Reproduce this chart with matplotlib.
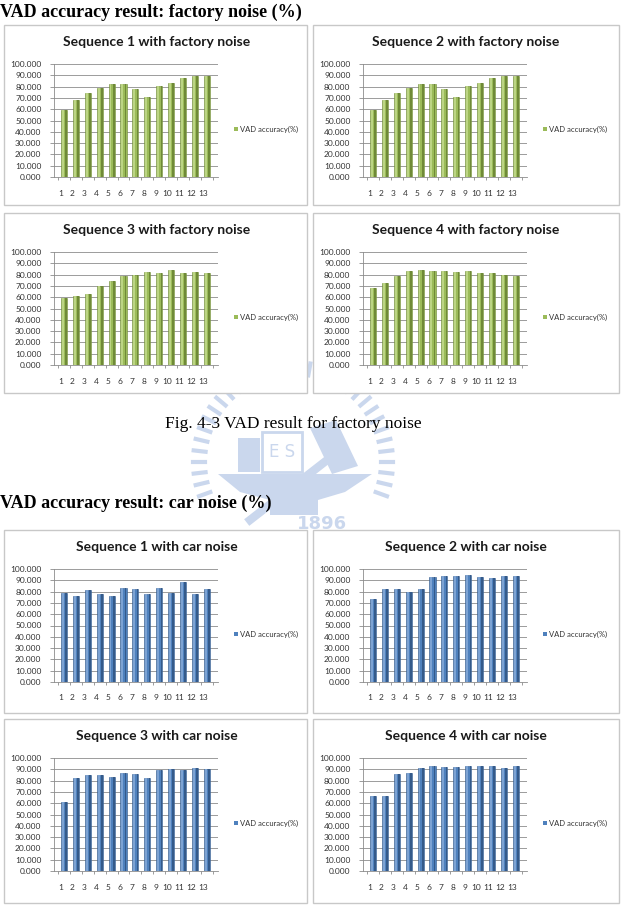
import numpy as np
import matplotlib.pyplot as plt
from matplotlib.patches import Rectangle, Polygon

W, H = 621, 911

# x categories (13 test settings)
categories = [str(i) for i in range(1, 14)]
y_ticks = list(range(0, 101, 10))
legend_label = "VAD accuracy(%)"

# factory noise, VAD accuracy (%)
factory_seq1 = [59.0, 68.0, 74.0, 79.0, 82.0, 82.0, 77.5, 71.0, 80.5, 83.0, 88.0, 89.0, 89.0]
factory_seq2 = [59.0, 68.0, 74.0, 79.0, 82.0, 82.0, 77.5, 71.0, 80.5, 83.0, 88.0, 89.0, 89.0]
factory_seq3 = [59.5, 61.0, 63.0, 69.5, 74.5, 78.5, 79.5, 82.0, 81.5, 84.5, 81.5, 82.0, 81.5]
factory_seq4 = [68.5, 72.5, 79.0, 83.5, 84.5, 83.0, 83.0, 82.0, 83.0, 81.0, 81.0, 80.0, 79.0]

# car noise, VAD accuracy (%)
car_seq1 = [78.5, 76.5, 81.0, 78.0, 76.0, 83.0, 82.5, 78.0, 83.0, 78.5, 88.5, 78.0, 82.0]
car_seq2 = [73.5, 82.0, 82.0, 80.0, 82.0, 93.0, 93.5, 93.5, 94.5, 92.5, 92.0, 94.0, 93.5]
car_seq3 = [61.5, 82.0, 85.0, 85.0, 83.0, 86.5, 86.0, 82.0, 89.0, 90.5, 89.0, 91.5, 90.0]
car_seq4 = [66.0, 66.5, 86.0, 87.0, 91.0, 93.0, 92.0, 92.0, 93.0, 92.5, 92.5, 91.0, 93.0]

green = ("#9BBB59", "#BCD584", "#6F8A37")
blue = ("#4F81BD", "#7DA3D3", "#345A8A")

chart_font = "Lato"
wm = "#CAD7ED"  # watermark tint

fig = plt.figure(figsize=(W / 100, H / 100), dpi=100)
fig.patch.set_facecolor("white")

# full-page layer in pixel coordinates for text and frames
bg = fig.add_axes([0, 0, 1, 1])
bg.set_xlim(0, W)
bg.set_ylim(H, 0)
bg.axis("off")

# faint university emblem behind the captions (rough)
cx, cy = 293, 462
for a in np.linspace(np.radians(200), np.radians(-20), 34):
    bg.plot([cx + 88 * np.cos(a), cx + 100 * np.cos(a)],
            [cy - 88 * np.sin(a), cy - 100 * np.sin(a)], color=wm, lw=3, zorder=0)
bg.add_patch(Polygon([[218, 474], [372, 474], [345, 492], [318, 500], [318, 515],
                      [270, 515], [270, 500], [240, 492]], color=wm, lw=0, zorder=0))
bg.add_patch(Rectangle((238, 438), 22, 34, color=wm, lw=0, zorder=0))
bg.add_patch(Rectangle((262, 432), 40, 40, fill=False, edgecolor=wm, lw=2, zorder=0))
bg.text(282, 452, "E S", ha="center", va="center", fontsize=12, color=wm, zorder=0)
bg.add_patch(Polygon([[310, 428], [336, 420], [358, 466], [332, 474]], color=wm, lw=0, zorder=0))
bg.plot([250, 340], [520, 450], color=wm, lw=6, zorder=0)
bg.text(322, 524, "1896", ha="center", va="center", fontsize=13, fontweight="bold",
        color=wm, zorder=0)


def add_px_axes(x, y, w, h):
    return fig.add_axes([x / W, 1 - (y + h) / H, w / W, h / H])


def panel(x0, y0, w, h, title, vals, colors):
    bg.add_patch(Rectangle((x0, y0), w, h, facecolor="white", edgecolor="#C8C8C8", lw=1.0, zorder=1))
    bg.text(x0 + 153, y0 + 17, title, ha="center", va="center",
            fontsize=10, fontweight="bold", family=chart_font, color="#1A1A1A", zorder=2)

    ax = add_px_axes(x0 + 50, y0 + 39, 164, 113)
    ax.set_facecolor("none")
    ax.set_xlim(0.15, 13.95)
    ax.set_ylim(0, 100)

    x = np.arange(1, len(vals) + 1)
    bw = 0.52
    base, light, dark = colors
    ax.bar(x, vals, width=bw, color=base, edgecolor=dark, linewidth=0.4, zorder=3)
    ax.bar(x - bw * 0.18, vals, width=bw * 0.3, color=light, linewidth=0, zorder=4)
    ax.bar(x + bw * 0.34, vals, width=bw * 0.25, color=dark, linewidth=0, zorder=4)

    ax.set_yticks(y_ticks)
    ax.set_yticklabels([f"{v:.3f}" for v in y_ticks])
    ax.yaxis.grid(True, color="#8C8C8C", lw=0.6, zorder=0)
    ax.set_axisbelow(True)
    ax.set_xticks(x - 0.3)
    ax.set_xticklabels(categories)
    ax.set_xticks(np.arange(0.5, 14, 1), minor=True)
    ax.tick_params(axis="x", which="major", length=0, pad=9, labelsize=6, labelcolor="#333333")
    ax.tick_params(axis="x", which="minor", length=2.5, color="#8C8C8C", width=0.6)
    ax.tick_params(axis="y", length=3, color="#8C8C8C", width=0.6, pad=6,
                   labelsize=6, labelcolor="#333333")
    for lab in ax.get_xticklabels() + ax.get_yticklabels():
        lab.set_family(chart_font)
    for side in ("top", "right"):
        ax.spines[side].set_visible(False)
    ax.spines["left"].set_color("#8C8C8C")
    ax.spines["left"].set_linewidth(0.6)
    ax.spines["bottom"].set_color("#8C8C8C")
    ax.spines["bottom"].set_linewidth(0.6)

    # legend
    bg.add_patch(Rectangle((x0 + 230, y0 + 102), 4, 4, color=base, lw=0, zorder=2))
    bg.text(x0 + 236, y0 + 104, legend_label, ha="left", va="center",
            fontsize=5.5, family=chart_font, color="#333333", zorder=2)


# headings and caption
bg.text(0, 12, "VAD accuracy result: factory noise (%)", ha="left", va="center",
        fontsize=13, fontweight="bold", family="Liberation Serif", zorder=2)
bg.text(293, 424, "Fig. 4-3 VAD result for factory noise", ha="center", va="center",
        fontsize=12.5, family="Liberation Serif", zorder=2)
bg.text(0, 503, "VAD accuracy result: car noise (%)", ha="left", va="center",
        fontsize=13, fontweight="bold", family="Liberation Serif", zorder=2)

panel(4, 25, 303, 180, "Sequence 1 with factory noise", factory_seq1, green)
panel(313, 25, 306, 180, "Sequence 2 with factory noise", factory_seq2, green)
panel(4, 213, 303, 180, "Sequence 3 with factory noise", factory_seq3, green)
panel(313, 213, 306, 180, "Sequence 4 with factory noise", factory_seq4, green)

panel(4, 530, 303, 183, "Sequence 1 with car noise", car_seq1, blue)
panel(313, 530, 306, 183, "Sequence 2 with car noise", car_seq2, blue)
panel(4, 719, 303, 184, "Sequence 3 with car noise", car_seq3, blue)
panel(313, 719, 306, 184, "Sequence 4 with car noise", car_seq4, blue)

fig.savefig("out.png", dpi=100)
